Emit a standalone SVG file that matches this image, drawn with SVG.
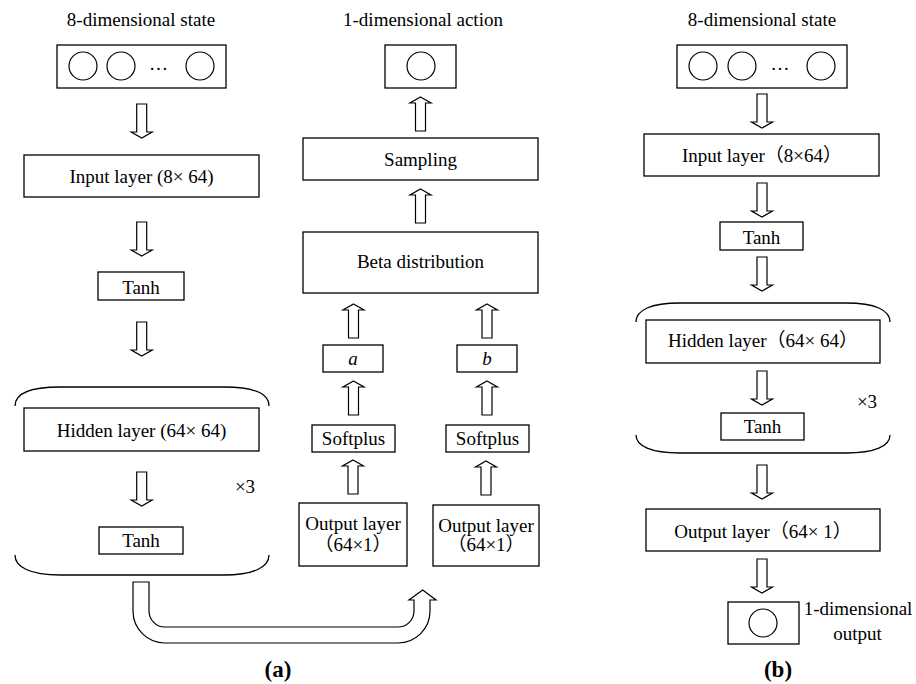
<svg xmlns="http://www.w3.org/2000/svg" xmlns:xlink="http://www.w3.org/1999/xlink" width="916" height="684" viewBox="0 0 916 684">
<style>
  text { font-family: "Liberation Serif", "Noto Sans CJK SC", serif; font-size: 19px; fill: #000; text-anchor: middle; }
  .box { fill: #fff; stroke: #000; stroke-width: 1.3; }
  .node { fill: none; stroke: #000; stroke-width: 1.2; }
  .arr { fill: #fff; stroke: #000; stroke-width: 1.2; stroke-linejoin: miter; }
  .brk { fill: none; stroke: #000; stroke-width: 1.3; }
  .lab { font-weight: bold; font-size: 23px; }
  .it { font-style: italic; }
</style>
<defs>
  <path id="down" class="arr" d="M-5,0 H5 V28 H10.5 L0,34 L-10.5,28 H-5 Z"/>
  <path id="up" class="arr" d="M0,0 L10.5,6 H5 V34 H-5 V6 H-10.5 Z"/>
</defs>
<rect width="916" height="684" fill="#fff"/>

<!-- Panel (a) left column -->
<g id="stateA">
  <text x="141" y="26">8-dimensional state</text>
  <rect class="box" x="57" y="45" width="169" height="43"/>
  <circle class="node" cx="83" cy="66" r="14"/>
  <circle class="node" cx="121" cy="66" r="14"/>
  <text x="158.5" y="70">…</text>
  <circle class="node" cx="200" cy="66" r="14"/>
</g>
<g id="inputA">
  <rect class="box" x="24" y="155" width="235" height="42"/>
  <text x="141.5" y="183">Input layer (8× 64)</text>
</g>
<g id="tanhA1">
  <rect class="box" x="98" y="272" width="86" height="28"/>
  <text x="141" y="294">Tanh</text>
</g>
<g id="repeatA">
  <path class="brk" d="M15,406 C15,394 30,387 60,387 H224 C254,387 269,394 269,406"/>
  <path class="brk" d="M15,555 C15,567 30,575 60,575 H224 C254,575 269,567 269,555"/>
  <text x="245" y="493">×3</text>
</g>
<g id="hiddenA">
  <rect class="box" x="24" y="408" width="235" height="43"/>
  <text x="141.5" y="437">Hidden layer (64× 64)</text>
</g>
<g id="tanhA2">
  <rect class="box" x="99" y="527" width="84" height="27"/>
  <text x="141" y="547">Tanh</text>
</g>

<!-- Panel (a) right part -->
<g id="action">
  <text x="423" y="26">1-dimensional action</text>
  <rect class="box" x="385" y="45" width="71" height="43"/>
  <circle class="node" cx="421" cy="66" r="14"/>
</g>
<g id="sampling">
  <rect class="box" x="303" y="138" width="235" height="42"/>
  <text x="420.5" y="166">Sampling</text>
</g>
<g id="beta">
  <rect class="box" x="303" y="232" width="235" height="61"/>
  <text x="420.5" y="268">Beta distribution</text>
</g>
<g id="paramA">
  <rect class="box" x="323" y="345" width="60" height="27"/>
  <text class="it" x="353" y="365">a</text>
</g>
<g id="paramB">
  <rect class="box" x="457" y="345" width="60" height="27"/>
  <text class="it" x="487" y="365">b</text>
</g>
<g id="softplusA">
  <rect class="box" x="312" y="425" width="83" height="27"/>
  <text x="353.5" y="445">Softplus</text>
</g>
<g id="softplusB">
  <rect class="box" x="446" y="425" width="83" height="27"/>
  <text x="487.5" y="445">Softplus</text>
</g>
<g id="outputA1">
  <rect class="box" x="299" y="503" width="108" height="63"/>
  <text x="353" y="530">Output layer</text>
  <text x="353" y="551">（64×1）</text>
</g>
<g id="outputA2">
  <rect class="box" x="433" y="505" width="106" height="61"/>
  <text x="486" y="532">Output layer</text>
  <text x="486" y="551">（64×1）</text>
</g>

<!-- Panel (b) -->
<g id="stateB">
  <text x="762" y="26">8-dimensional state</text>
  <rect class="box" x="677" y="45" width="170" height="43"/>
  <circle class="node" cx="703" cy="66" r="14"/>
  <circle class="node" cx="742" cy="66" r="14"/>
  <text x="780" y="70">…</text>
  <circle class="node" cx="821" cy="66" r="14"/>
</g>
<g id="inputB">
  <rect class="box" x="644" y="134" width="235" height="42"/>
  <text x="762" y="162">Input layer（8×64）</text>
</g>
<g id="tanhB1">
  <rect class="box" x="720" y="222" width="83" height="28"/>
  <text x="761.5" y="244">Tanh</text>
</g>
<g id="repeatB">
  <path class="brk" d="M636,322 C636,310 651,303 680,303 H846 C875,303 890,310 890,322"/>
  <path class="brk" d="M636,435 C636,446 651,453 680,453 H846 C875,453 890,446 890,435"/>
  <text x="867" y="408">×3</text>
</g>
<g id="hiddenB">
  <rect class="box" x="646" y="320" width="234" height="43"/>
  <text x="763" y="347">Hidden layer（64× 64）</text>
</g>
<g id="tanhB2">
  <rect class="box" x="721" y="413" width="83" height="27"/>
  <text x="762.5" y="433">Tanh</text>
</g>
<g id="outputB">
  <rect class="box" x="646" y="509" width="234" height="42"/>
  <text x="763" y="538">Output layer（64× 1）</text>
</g>
<g id="resultB">
  <rect class="box" x="728" y="602" width="71" height="42"/>
  <circle class="node" cx="763" cy="623" r="14"/>
  <text x="858" y="615">1-dimensional</text>
  <text x="857.5" y="640">output</text>
</g>

<!-- Connectors -->
<g id="connectors">
  <use xlink:href="#down" href="#down" x="141.7" y="104"/>
  <use xlink:href="#down" href="#down" x="141.7" y="222"/>
  <use xlink:href="#down" href="#down" x="141.7" y="322"/>
  <use xlink:href="#down" href="#down" x="141.7" y="472"/>

  <use xlink:href="#up" href="#up" x="420.5" y="97"/>
  <use xlink:href="#up" href="#up" x="420.5" y="189"/>
  <use xlink:href="#up" href="#up" x="353.5" y="304"/>
  <use xlink:href="#up" href="#up" x="487" y="304"/>
  <use xlink:href="#up" href="#up" x="353.5" y="381"/>
  <use xlink:href="#up" href="#up" x="487" y="381"/>
  <use xlink:href="#up" href="#up" x="353" y="460"/>
  <use xlink:href="#up" href="#up" x="486" y="461"/>

  <path class="arr" d="M133,582 V611 A32,32 0 0 0 165,643 H398 A32,32 0 0 0 430,611 V600 H436 L422.7,590 L409,600 H414 V611 A16,16 0 0 1 398,627 H165 A16,16 0 0 1 149,611 V582 Z"/>

  <use xlink:href="#down" href="#down" x="762" y="94"/>
  <use xlink:href="#down" href="#down" x="762" y="183"/>
  <use xlink:href="#down" href="#down" x="762" y="257"/>
  <use xlink:href="#down" href="#down" x="762" y="371"/>
  <use xlink:href="#down" href="#down" x="762" y="465"/>
  <use xlink:href="#down" href="#down" x="762" y="559"/>
</g>

<text class="lab" x="278" y="677">(a)</text>
<text class="lab" x="778" y="677">(b)</text>
</svg>
